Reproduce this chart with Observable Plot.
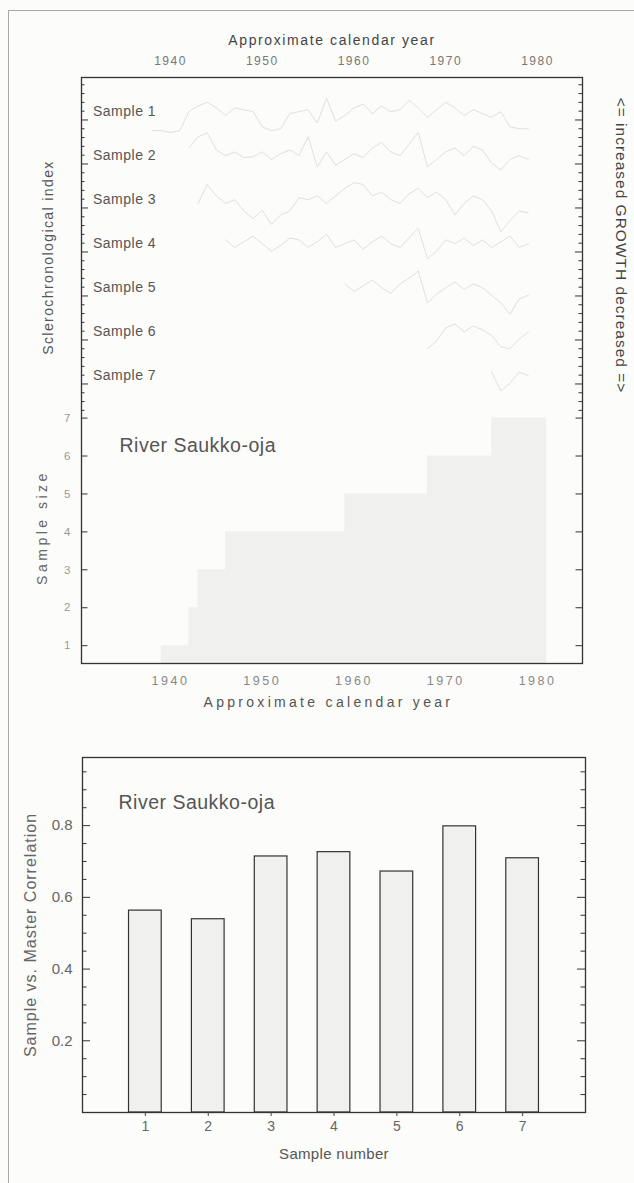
<!DOCTYPE html>
<html><head><meta charset="utf-8">
<script src="https://cdn.jsdelivr.net/npm/d3@7"></script>
<script src="https://cdn.jsdelivr.net/npm/@observablehq/plot@0.6"></script>
<style>
html,body{margin:0;padding:0;background:#fcfcfa;}
#page{position:relative;width:634px;height:1183px;overflow:hidden;font-family:"Liberation Sans",Arial,sans-serif;}
#page svg{display:block;}
.edgeL{position:absolute;left:8px;top:10px;width:1px;height:1173px;background:#a8a8a8;}
.edgeT{position:absolute;left:8px;top:10px;width:626px;height:1px;background:#a8a8a8;}
</style></head>
<body><div id="page"><div class="edgeL"></div><div class="edgeT"></div></div>
<script>
// ---------- data ----------
const tickYears = [1940, 1950, 1960, 1970, 1980];
const sampleNames = ["Sample 1", "Sample 2", "Sample 3", "Sample 4", "Sample 5", "Sample 6", "Sample 7"];
const sampleStart = [1938, 1942, 1943, 1946, 1959, 1968, 1975];
const sample1 = [-0.5,-0.5,-0.55,-0.5,0,0.15,0.25,0.1,-0.1,0.1,0.05,0,-0.4,-0.5,-0.45,-0.05,0,0.05,-0.3,0.36,-0.25,-0.1,0.1,0.2,-0.05,0.15,0,0.05,0.3,0.1,-0.15,0.05,0.25,0.1,-0.1,0.05,-0.05,-0.15,0,-0.4,-0.45,-0.45];
const sample2 = [0.2,0.5,0.6,0.15,0,0.1,-0.05,-0.03,0.1,-0.1,0.05,0.15,0,0.5,-0.3,0.1,-0.25,-0.1,0.05,-0.05,0.2,0.35,0.1,0,0.3,0.62,-0.3,-0.1,0.1,0.2,0,0.25,0.15,-0.2,-0.38,-0.1,0,-0.1];
const sample3 = [-0.1,0.4,0.1,-0.1,0,-0.3,-0.5,-0.28,-0.65,-0.4,-0.3,0.05,0,0.1,-0.1,0.1,0.3,0.45,0.4,0.1,0.2,0,-0.1,0.15,0.3,0.05,0.2,0,-0.4,-0.1,0.1,0,-0.3,-0.85,-0.55,-0.3,-0.35];
const sample4 = [0.1,-0.1,0.05,0.2,0,-0.2,-0.05,0.15,0.1,-0.1,0.05,0.25,-0.1,0,0.1,-0.15,0.05,0.2,0,-0.1,0.15,0.41,-0.4,-0.2,0.1,0,0.15,-0.05,0.1,-0.1,0.05,0.2,-0.1,0];
const sample5 = [0.1,-0.1,0.05,0.2,0,-0.15,0.1,0.25,0.44,-0.4,-0.17,0,0.15,-0.05,0.1,0,-0.2,-0.4,-0.7,-0.3,-0.2];
const sample6 = [-0.45,-0.24,0.1,0.2,0,0.15,0.05,-0.1,-0.4,-0.45,-0.2,0];
const sample7 = [0.1,-0.4,-0.2,0.1,0];
const sizeYears = [1939, 1942, 1943, 1946, 1959, 1968, 1975, 1981];
const sizeValues = [1, 2, 3, 4, 5, 6, 7, 7];
const sizeTicks = [1, 2, 3, 4, 5, 6, 7];
const barSamples = [1, 2, 3, 4, 5, 6, 7];
const correlation = [0.563, 0.539, 0.714, 0.726, 0.672, 0.798, 0.709];
const corrTicks = [0.2, 0.4, 0.6, 0.8];

// ---------- layout ----------
const font = "Liberation Sans, Arial, sans-serif";
const topM = {top: 77, bottom: 57, left: 81, right: 52};
const topH = 720, W = 634;
const yDomTop = [0.53, 15.98];
const pxU = (topH - topM.top - topM.bottom) / (yDomTop[1] - yDomTop[0]);
const lvl = i => 1 + (534 - 44 * i) / pxU;
const topPW = W - topM.left - topM.right;

const samples = [sample1, sample2, sample3, sample4, sample5, sample6, sample7];
const seriesTable = samples.flatMap((vals, i) => vals.map((v, j) => ({sample: sampleNames[i], year: sampleStart[i] + j, y: lvl(i) + v})));
const sizeTable = sizeYears.map((yr, i) => ({year: yr, n: sizeValues[i]}));

const majOff = 8.3 / pxU, minStep = 8.8 / pxU;
const topMajor = d3.range(7).map(i => lvl(i) - majOff);
const topMinor = d3.range(-4, 34).filter(m => m % 5 !== 0).map(m => lvl(0) - majOff - m * minStep);

const tickL = (vals, len, pw, sw = 1) => Plot.tickY(vals, {y: d => d, insetRight: pw - len, stroke: "#333", strokeWidth: sw});
const tickR = (vals, len, pw, sw = 1) => Plot.tickY(vals, {y: d => d, insetLeft: pw - len, stroke: "#333", strokeWidth: sw});

const topPlot = Plot.plot({
  width: W, height: topH,
  marginTop: topM.top, marginBottom: topM.bottom, marginLeft: topM.left, marginRight: topM.right,
  x: {domain: [1930.3, 1984.9]},
  y: {domain: yDomTop},
  style: {fontFamily: font, background: "transparent", color: "#555"},
  marks: [
    Plot.areaY(sizeTable, {x: "year", y: "n", curve: "step-after", fill: "#f0f0ee", clip: true}),
    Plot.line(seriesTable, {x: "year", y: "y", z: "sample", stroke: "#e0e0e0", strokeWidth: 1, clip: true}),
    Plot.frame({stroke: "#333", strokeWidth: 1.3}),
    tickL(topMajor, 7, topPW), tickL(topMinor, 3.5, topPW),
    tickR(topMajor, 7, topPW), tickR(topMinor, 3.5, topPW),
    tickL(sizeTicks, 6.5, topPW), tickR(sizeTicks, 6.5, topPW),
    Plot.axisX({anchor: "top", ticks: tickYears, tickSize: 0, tickPadding: 13, fontSize: 12, fill: "#777", tickFormat: d3.format("d"), label: null}),
    Plot.axisX({anchor: "bottom", ticks: tickYears, tickSize: 0, tickPadding: 13, fontSize: 12.5, fill: "#888", tickFormat: d3.format("d"), label: null}),
    Plot.axisY({anchor: "left", ticks: sizeTicks, tickSize: 0, tickPadding: 11, fontSize: 11.5, fill: "#999", label: null}),
    Plot.text(sampleNames, {y: (d, i) => lvl(i), text: d => d, frameAnchor: "left", dx: 11.5, textAnchor: "start", fontSize: 14, fill: "#555"}),
    Plot.text(["Approximate calendar year"], {text: d => d, frameAnchor: "top", dy: -42, fontSize: 14, fill: "#444"}),
    Plot.text(["Approximate calendar year "], {text: d => d, frameAnchor: "bottom", dy: 43.5, fontSize: 14, fill: "#555"}),
    Plot.text(["Sclerochronological index"], {text: d => d, frameAnchor: "left", textAnchor: "middle", dx: -33, dy: -113, rotate: -90, fontSize: 14, fill: "#555"}),
    Plot.text(["Sample size"], {text: d => d, frameAnchor: "left", textAnchor: "middle", dx: -39, dy: 157, rotate: -90, fontSize: 14, fill: "#666"}),
    Plot.text(["<= increased GROWTH decreased =>"], {text: d => d, frameAnchor: "right", textAnchor: "middle", dx: 38, dy: -125, rotate: 90, fontSize: 15.5, fill: "#444"}),
    Plot.text(["River Saukko-oja"], {text: d => d, frameAnchor: "top-left", dx: 38, dy: 361, textAnchor: "start", fontSize: 19.5, fill: "#555"})
  ]
});

const barTable = barSamples.map((n, i) => ({n, r: correlation[i]}));
const barM = {top: 37, bottom: 71, left: 82, right: 49};
const barPW = W - barM.left - barM.right;
const corrMinor = d3.range(1, 20).map(i => i * 0.05).filter(v => Math.abs(v / 0.2 - Math.round(v / 0.2)) > 1e-6);

const barPlot = Plot.plot({
  width: W, height: 463,
  marginTop: barM.top, marginBottom: barM.bottom, marginLeft: barM.left, marginRight: barM.right,
  x: {domain: [0, 8]},
  y: {domain: [0, 0.99]},
  style: {fontFamily: font, background: "transparent", color: "#555"},
  marks: [
    Plot.rectY(barTable, {x1: d => d.n - 0.26, x2: d => d.n + 0.26, y1: 0, y2: "r", fill: "#f0f0ee", stroke: "#333", strokeWidth: 1.2}),
    Plot.frame({stroke: "#333", strokeWidth: 1.3}),
    tickL(corrTicks, 8, barPW), tickL(corrMinor, 4.5, barPW),
    tickR(corrTicks, 8, barPW), tickR(corrMinor, 4.5, barPW),
    Plot.axisY({anchor: "left", ticks: corrTicks, tickSize: 0, tickPadding: 10, fontSize: 15, fill: "#666", tickFormat: d3.format(".1f"), label: null}),
    Plot.axisX({anchor: "bottom", ticks: barSamples, tickSize: 4, tickPadding: 5, fontSize: 14, fill: "#666", stroke: "#444", tickFormat: d3.format("d"), label: null}),
    Plot.text(["Sample number"], {text: d => d, frameAnchor: "bottom", dy: 46, fontSize: 15, fill: "#555"}),
    Plot.text(["Sample vs. Master Correlation"], {text: d => d, frameAnchor: "left", textAnchor: "middle", dx: -52, rotate: -90, fontSize: 16, fill: "#666"}),
    Plot.text(["River Saukko-oja"], {text: d => d, frameAnchor: "top-left", dx: 36, dy: 38, textAnchor: "start", fontSize: 19.5, fill: "#555"})
  ]
});

// letter spacing tweaks
const spacing = {
  "Approximate calendar year": 1.6,
  "Approximate calendar year ": 3.3,
  "Sclerochronological index": 1.4,
  "Sample size": 3.5,
  "<= increased GROWTH decreased =>": 1,
  "River Saukko-oja": 0.5,
  "Sample number": 0.3,
  "Sample vs. Master Correlation": 1
};
for (const svg of [topPlot, barPlot]) {
  d3.select(svg).selectAll("text").each(function () {
    const t = this.textContent;
    if (t in spacing) this.style.letterSpacing = spacing[t] + "px";
    if (t.startsWith("Sample ") && t.length === 8) this.style.letterSpacing = "0.5px";
  });
}
const xg = topPlot.querySelectorAll('g[aria-label="x-axis tick label"]');
if (xg[0]) xg[0].style.letterSpacing = "1.5px";
if (xg[1]) xg[1].style.letterSpacing = "2.5px";

const page = document.getElementById("page");
page.appendChild(topPlot);
page.appendChild(barPlot);
</script>
</body></html>
